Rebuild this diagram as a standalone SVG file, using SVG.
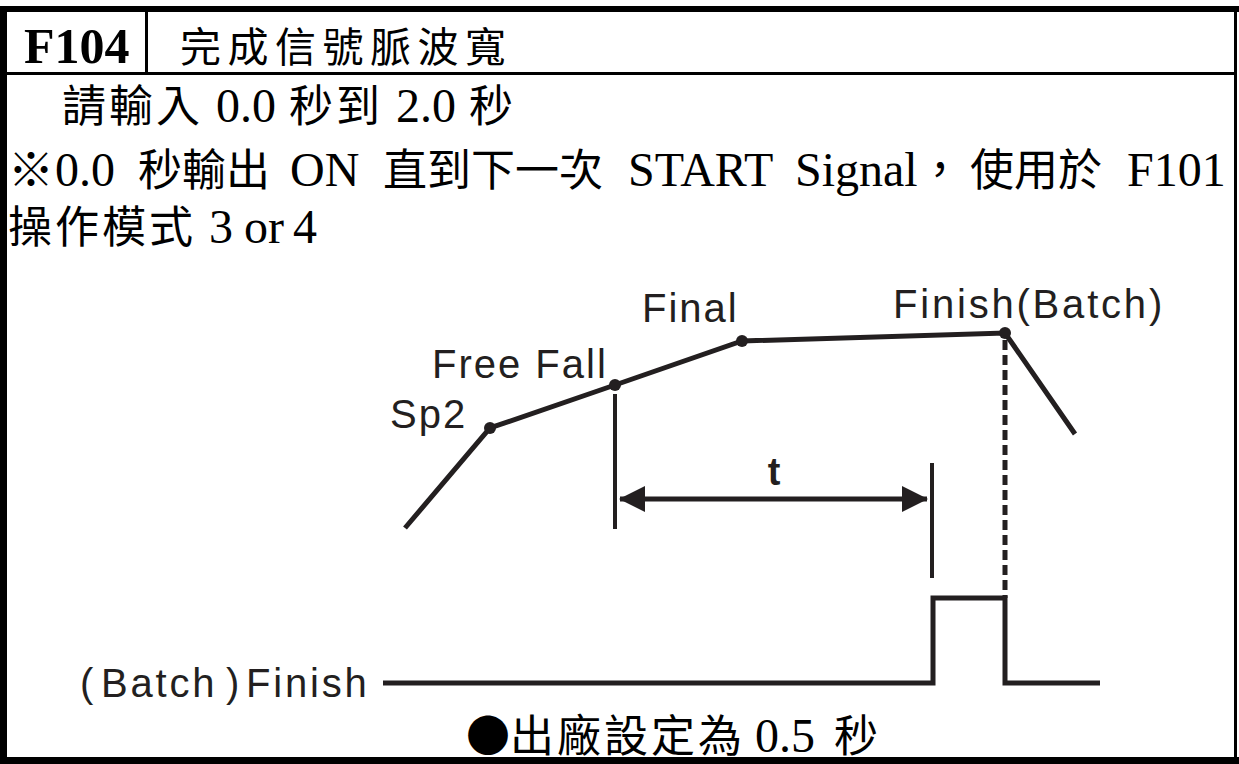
<svg xmlns="http://www.w3.org/2000/svg" width="1239" height="764" viewBox="0 0 1239 764">
<style>
.zh{font-family:"Liberation Serif","Noto Sans CJK TC",serif;font-size:44px;fill:#000}
.sp{letter-spacing:3px}
.lt{font-family:"Liberation Serif",serif;font-size:48px;letter-spacing:0}
.lb{font-family:"Liberation Sans",Arial,sans-serif;font-size:40px;fill:#231f20;letter-spacing:2px}
.ln{stroke:#231f20;stroke-width:5;fill:none;stroke-linejoin:miter}
.vl{stroke:#231f20;stroke-width:4;fill:none}
.dot{fill:#231f20}
</style>
<defs>
<marker id="ah" viewBox="0 0 26 26" refX="25" refY="13" markerWidth="26" markerHeight="26" markerUnits="userSpaceOnUse" orient="auto-start-reverse">
<path d="M0,0 L26,13 L0,26 Z" fill="#231f20"/>
</marker>
</defs>
<rect width="1239" height="764" fill="#fff"/>
<g id="frame">
<rect x="0" y="6" width="1239" height="6" fill="#000"/>
<rect x="0" y="6" width="7" height="758" fill="#000"/>
<rect x="1234" y="6" width="3" height="756" fill="#000"/>
<rect x="0" y="757" width="1239" height="7" fill="#000"/>
<rect x="0" y="72" width="1237" height="3" fill="#000"/>
<rect x="145" y="6" width="3" height="68" fill="#000"/>
</g>
<g id="header">
<text x="24" y="63" font-family="Liberation Serif,serif" font-weight="bold" font-size="50">F104</text>
<text class="zh" x="180" y="62" style="font-size:41px;letter-spacing:6.5px">完成信號脈波寬</text>
</g>
<g id="notes">
<text class="zh sp" y="122"><tspan x="62">請輸入</tspan><tspan class="lt" x="216">0.0</tspan><tspan x="289">秒到</tspan><tspan class="lt" x="396">2.0</tspan><tspan x="469">秒</tspan></text>
<text class="zh" y="186"><tspan x="8" style="font-family:'Noto Sans CJK TC',sans-serif;font-size:46px">※</tspan><tspan class="lt" x="55">0.0</tspan><tspan x="138">秒輸出</tspan><tspan class="lt" x="290">ON</tspan><tspan x="383">直到下一次</tspan><tspan class="lt" x="628">START</tspan><tspan class="lt" x="795">Signal</tspan><tspan x="918">，</tspan><tspan x="970">使用於</tspan><tspan class="lt" x="1127">F101</tspan></text>
<text class="zh sp" y="243"><tspan x="8">操作模式</tspan><tspan class="lt" x="209">3</tspan><tspan class="lt" x="244">or</tspan><tspan class="lt" x="293">4</tspan></text>
</g>
<g id="curve">
<polyline class="ln" points="405,528 490,428 615,385 742,341 1005,333 1075,434"/>
<circle class="dot" cx="490" cy="428" r="6"/>
<circle class="dot" cx="615" cy="385" r="6"/>
<circle class="dot" cx="742" cy="341" r="6"/>
<circle class="dot" cx="1005" cy="333" r="6"/>
<text class="lb" x="390" y="428">Sp2</text>
<text class="lb" x="432" y="378">Free Fall</text>
<text class="lb" x="642" y="322">Final</text>
<text class="lb" x="893" y="318" style="letter-spacing:2.8px">Finish(Batch)</text>
</g>
<g id="connectors">
<line class="vl" x1="615" y1="394" x2="615" y2="529"/>
<line class="vl" x1="932" y1="463" x2="932" y2="578"/>
<line class="vl" x1="620" y1="499" x2="927" y2="499" style="stroke-width:5" marker-start="url(#ah)" marker-end="url(#ah)"/>
<line class="vl" x1="1005" y1="340" x2="1005" y2="598" style="stroke-width:5" stroke-dasharray="10,5"/>
</g>
<g id="t-label">
<text x="774" y="485" text-anchor="middle" font-family="Liberation Sans,Arial,sans-serif" font-weight="bold" font-size="38" fill="#231f20">t</text>
</g>
<g id="pulse">
<polyline class="ln" points="383,683 933,683 933,598 1005,598 1005,683 1100,683"/>
<text class="lb" y="697" style="letter-spacing:2.8px"><tspan x="80">(</tspan><tspan x="101">Batch</tspan><tspan x="226">)</tspan><tspan x="246">Finish</tspan></text>
</g>
<g id="footer">
<text class="zh sp" y="752"><tspan x="466" style="font-family:'Noto Sans CJK TC',sans-serif;letter-spacing:0">●</tspan><tspan x="510">出廠設定為</tspan><tspan class="lt" x="755">0.5</tspan><tspan x="834">秒</tspan></text>
</g>
</svg>
